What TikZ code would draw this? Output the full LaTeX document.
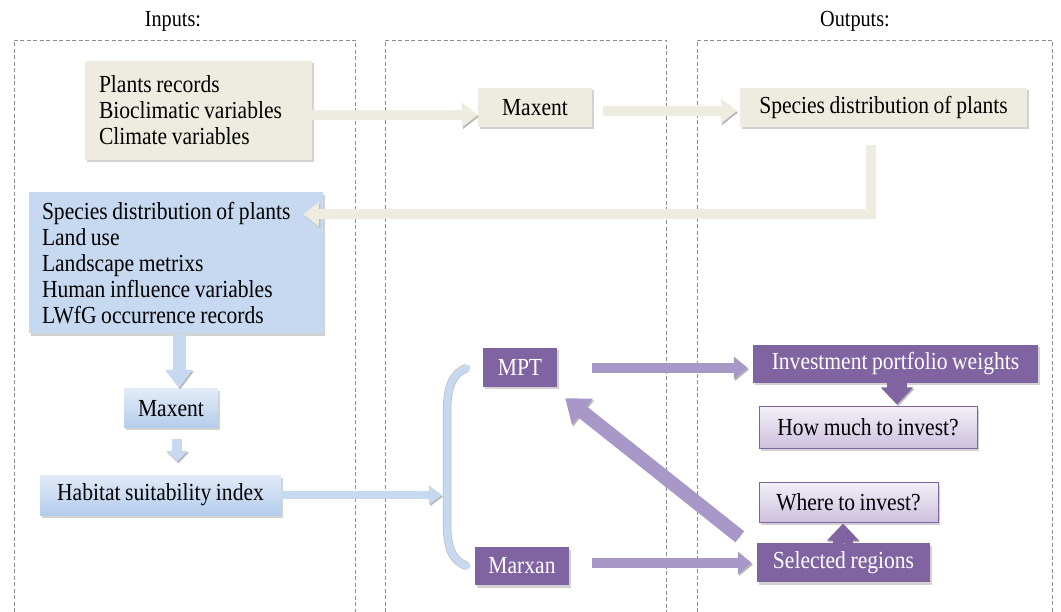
\documentclass[tikz,border=0pt]{standalone}
\usepackage{fontspec}
\setmainfont[FakeStretch=0.88,WordSpace=0.85]{Liberation Serif}
\usetikzlibrary{arrows.meta,calc,shadows}
\definecolor{beige}{HTML}{EEECE1}
\definecolor{lblue}{HTML}{C6D9F1}
\definecolor{lbluetop}{HTML}{E2EBF8}
\definecolor{lbluebot}{HTML}{B4CCEC}
\definecolor{purp}{HTML}{8064A2}
\definecolor{purparrow}{HTML}{A898C8}
\definecolor{lpurptop}{HTML}{F3EFF8}
\definecolor{lpurpbot}{HTML}{CDC1DE}
\tikzset{
  txt/.style={font=\fontsize{24.5pt}{26pt}\selectfont},
  ttl/.style={font=\fontsize{23pt}{26pt}\selectfont},
  sh/.style={drop shadow={opacity=0.35,shadow xshift=2pt,shadow yshift=-2.5pt}},
  beigebox/.style={txt,fill=beige,inner sep=0pt,sh},
  bluebox/.style={txt,fill=lblue,inner sep=0pt,sh},
  bluegrad/.style={txt,top color=lbluetop,bottom color=lbluebot,inner sep=0pt,sh},
  purpbox/.style={txt,fill=purp,text=white,inner sep=0pt,sh},
  lpurpbox/.style={txt,top color=lpurptop,bottom color=lpurpbot,draw=purp,line width=1pt,inner sep=0pt,sh},
  column/.style={draw=black!45,line width=0.8pt,dash pattern=on 4pt off 2.5pt},
  arrshadow/.style={preaction={draw=black!28,transform canvas={shift={(1.2pt,-1.6pt)}}}},
  beigearr/.style={draw=beige,line width=10pt,arrshadow,-{Triangle[width=24pt,length=16pt]}},
  bluearr/.style={draw=lblue,line width=#1,arrshadow},
  purparr/.style={draw=purparrow,line width=10pt,arrshadow,-{Triangle[width=22pt,length=14pt]}},
  darkarr/.style={draw=purp,line width=20pt,arrshadow,-{Triangle[width=31pt,length=17pt]}},
}
\begin{document}
\begin{tikzpicture}[x=1pt,y=-1pt]
\useasboundingbox (0,0) rectangle (1061,612);
\fill[white] (0,0) rectangle (1061,612);
% columns
\draw[column] (14,612) -- (14,40) -- (355,40) -- (355,612);
\draw[column] (385,612) -- (385,40) -- (666,40) -- (666,612);
\draw[column] (697,612) -- (697,40) -- (1052,40) -- (1052,612);
\node[ttl] (tin) at (173,21) {Inputs:};
\node[ttl] (tout) at (855,21) {Outputs:};
% nodes
\node[beigebox,minimum width=227pt,minimum height=99pt,text width=199pt,align=flush left] (plants) at (198.5,110.5)
  {Plants records\\Bioclimatic variables\\Climate variables};
\node[beigebox,minimum width=114pt,minimum height=39pt] (mx1) at (535,107.5) {Maxent};
\node[beigebox,minimum width=287pt,minimum height=39pt] (spec) at (883.5,107.5) {Species distribution of plants};
\node[bluebox,minimum width=294pt,minimum height=141pt,text width=268pt,align=flush left] (blue) at (176,263)
  {Species distribution of plants\\Land use\\Landscape metrixs\\Human influence variables\\LWfG occurrence records};
\node[bluegrad,minimum width=94pt,minimum height=39pt] (mx2) at (171,408.5) {Maxent};
\node[bluegrad,minimum width=241pt,minimum height=40pt] (hab) at (160.5,495) {Habitat suitability index};
\node[purpbox,minimum width=74pt,minimum height=39pt] (mpt) at (520,367.5) {MPT};
\node[purpbox,minimum width=94pt,minimum height=38pt] (marxan) at (522,566) {Marxan};
\node[purpbox,minimum width=285pt,minimum height=38pt] (inv) at (895.5,364) {Investment portfolio weights};
\node[lpurpbox,minimum width=218pt,minimum height=41pt] (how) at (868,427.5) {How much to invest?};
\node[lpurpbox,minimum width=179pt,minimum height=40pt] (where) at (848.5,502) {Where to invest?};
\node[purpbox,minimum width=173pt,minimum height=39pt] (sel) at (843.5,562.5) {Selected regions};
% bracket
\coordinate (brtop) at (467,368);
\coordinate (brbot) at (467,566);
\coordinate (brmid) at (442,495);
\draw[draw=lblue,line width=7pt,line cap=round,preaction={draw=black!25,line width=8.5pt}]
  (brtop) .. controls (452,373) and (447,388) .. (447,412) -- (447,522)
  .. controls (447,548) and (452,561) .. (brbot);
% beige arrows
\draw[beigearr] ($(plants.east)+(0,4.5)$) -- ($(mx1.west)+(0,7.5)$);
\draw[beigearr] ($(mx1.east)+(11,3.5)$) -- ($(spec.west)+(-3,3.5)$);
\draw[beigearr] ($(spec.south)+(-12.5,18)$) |- ($(blue.north east)+(-20,22)$);
% blue arrows
\draw[bluearr=13pt,-{Triangle[width=26pt,length=18pt]}] ($(blue.south)+(3,0)$) -- ($(mx2.north)+(8,-1)$);
\draw[bluearr=10pt,-{Triangle[width=21pt,length=11pt]}] ($(mx2.south)+(6,11)$) -- ($(hab.north)+(16.5,-13)$);
\draw[bluearr=8pt,-{Triangle[width=18pt,length=13pt]}] (hab.east) -- (brmid);
% purple arrows
\draw[purparr] ($(mpt.east)+(35,0.5)$) -- ($(inv.west)+(-5,4)$);
\draw[purparr] ($(marxan.east)+(23,-3)$) -- ($(sel.west)+(-5,0.5)$);
\draw[purparr,line width=14pt,-{Triangle[width=32pt,length=22pt]}] ($(sel.north west)+(-17,-6)$) -- ($(mpt.south east)+(8,11)$);
\draw[darkarr] ($(inv.south)+(1.5,0)$) -- ($(how.north)+(29,-2)$);
\draw[darkarr] ($(sel.north)+(-0.5,0)$) -- ($(where.south)+(-5.5,1)$);
\end{tikzpicture}
\end{document}
